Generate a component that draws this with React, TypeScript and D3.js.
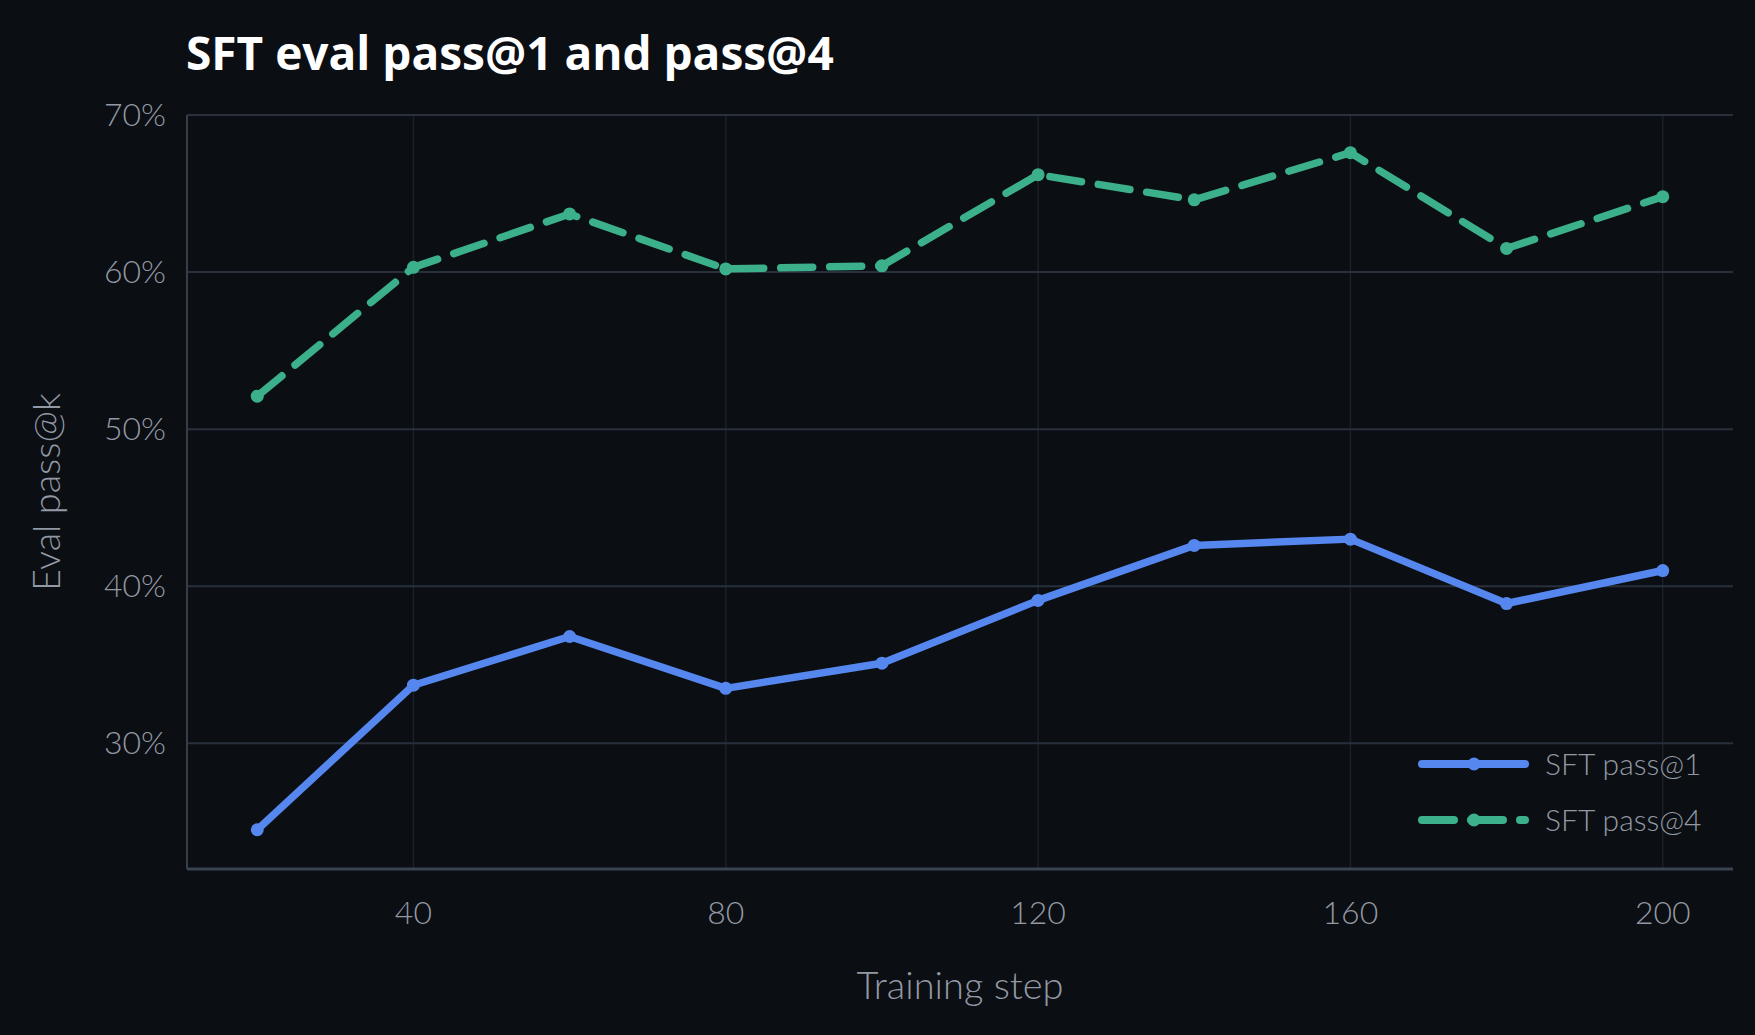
import React from "react";
import * as d3 from "d3";

const steps = [20, 40, 60, 80, 100, 120, 140, 160, 180, 200];
const pass1 = [24.5, 33.7, 36.8, 33.5, 35.1, 39.1, 42.6, 43.0, 38.9, 41.0];
const pass4 = [52.1, 60.3, 63.7, 60.2, 60.4, 66.2, 64.6, 67.6, 61.5, 64.8];
const xTicks = [40, 80, 120, 160, 200];
const yTicks = [30, 40, 50, 60, 70];
const seriesNames = ["SFT pass@1", "SFT pass@4"];
const seriesColors = ["#5587ee", "#3bb08a"];

const W = 1755;
const H = 1035;
const M = { left: 187, right: 1733, top: 115, bottom: 869 };
const FONT = "Lato, 'Noto Sans', sans-serif";
const TFONT = "'Open Sans', 'Noto Sans', sans-serif";
const LW = 300;

export default function App() {
  const x = d3.scaleLinear().domain([11, 209]).range([M.left, M.right]);
  const y = d3.scaleLinear().domain([22, 70]).range([M.bottom, M.top]);
  const line = d3
    .line<number>()
    .x((_, i) => x(steps[i]))
    .y((d) => y(d));
  const series = [pass1, pass4];
  const dash = [undefined, "32 17"];

  return (
    <svg
      width={W}
      height={H}
      style={{ position: "fixed", left: 0, top: 0, display: "block" }}
    >
      <rect width={W} height={H} fill="#0b0e13" />
      <text x={186} y={70} fill="#ffffff" fontFamily={TFONT} fontWeight={700} fontSize={46}>
        SFT eval pass@1 and pass@4
      </text>
      {xTicks.map((t) => (
        <line key={"vx" + t} x1={x(t)} x2={x(t)} y1={M.top} y2={M.bottom} stroke="#1b2029" strokeWidth={1.5} />
      ))}
      {yTicks.map((t) => (
        <line key={"hy" + t} x1={M.left} x2={M.right} y1={y(t)} y2={y(t)} stroke="#28303c" strokeWidth={2} />
      ))}
      <line x1={M.left} x2={M.left} y1={M.top} y2={M.bottom} stroke="#363e4c" strokeWidth={2} />
      <line x1={M.left} x2={M.right} y1={M.bottom} y2={M.bottom} stroke="#3a4352" strokeWidth={3} />
      {yTicks.map((t) => (
        <text key={"yl" + t} x={166} y={y(t) + 11} textAnchor="end" fill="#9399a4" fontFamily={FONT} fontWeight={LW} fontSize={32}>
          {t}%
        </text>
      ))}
      {xTicks.map((t) => (
        <text key={"xl" + t} x={x(t)} y={924} textAnchor="middle" fill="#9399a4" fontFamily={FONT} fontWeight={LW} fontSize={32}>
          {t}
        </text>
      ))}
      <text x={(M.left + M.right) / 2} y={999} textAnchor="middle" fill="#9399a4" fontFamily={FONT} fontWeight={LW} fontSize={38}>
        Training step
      </text>
      <text
        transform={`translate(60, ${(M.top + M.bottom) / 2}) rotate(-90)`}
        textAnchor="middle"
        fill="#9399a4"
        fontFamily={FONT}
        fontWeight={LW}
        fontSize={38}
      >
        Eval pass@k
      </text>
      {series.map((s, si) => (
        <g key={"s" + si}>
          <path
            d={line(s) || ""}
            fill="none"
            stroke={seriesColors[si]}
            strokeWidth={7.5}
            strokeLinecap="round"
            strokeLinejoin="round"
            strokeDasharray={dash[si]}
          />
          {s.map((v, i) => (
            <circle key={i} cx={x(steps[i])} cy={y(v)} r={6.5} fill={seriesColors[si]} />
          ))}
        </g>
      ))}
      {seriesNames.map((n, si) => {
        const ly = 764 + si * 56;
        return (
          <g key={"lg" + si}>
            <line
              x1={1422}
              x2={1525}
              y1={ly}
              y2={ly}
              stroke={seriesColors[si]}
              strokeWidth={8}
              strokeLinecap="round"
              strokeDasharray={dash[si]}
            />
            <circle cx={1474} cy={ly} r={6.5} fill={seriesColors[si]} />
            <text x={1545} y={ly + 11} fill="#9399a4" fontFamily={FONT} fontWeight={LW} fontSize={30}>
              {n}
            </text>
          </g>
        );
      })}
    </svg>
  );
}
